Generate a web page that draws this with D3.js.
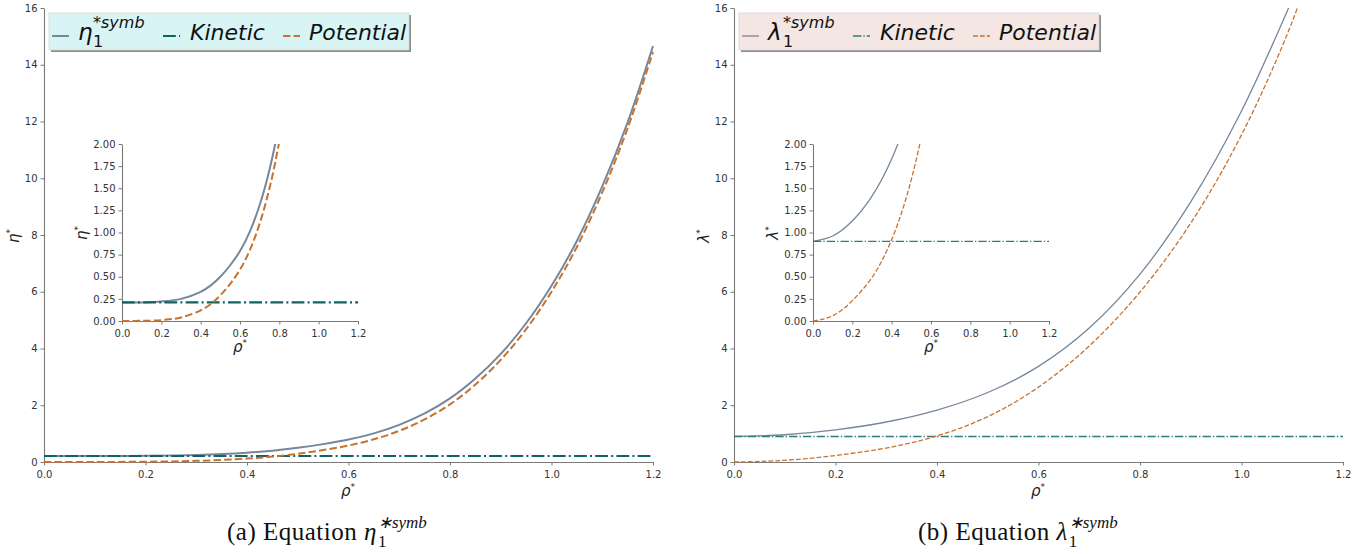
<!DOCTYPE html>
<meta charset="utf-8">
<script src="https://d3js.org/d3.v7.min.js"></script>
<style>
  body { margin: 0; background: #fff; }
  svg { display: block; }
</style>
<body>
<div id="chart"></div>
<script>

// ---- data ----
var rhoTicks = [0, 0.2, 0.4, 0.6, 0.8, 1.0, 1.2];
var mainYTicks = [0, 2, 4, 6, 8, 10, 12, 14, 16];
var insetYTicks = [0, 0.25, 0.5, 0.75, 1.0, 1.25, 1.5, 1.75, 2.0];
var kinRho = [0, 1.2];

// (a) eta
var rhoEta = [0, 0.1, 0.2, 0.3, 0.4, 0.45, 0.5, 0.55, 0.6, 0.65, 0.7, 0.75, 0.8, 0.85, 0.9, 0.95, 1.0, 1.05, 1.1, 1.15, 1.2];
var etaSymb = [0.21, 0.21, 0.22, 0.25, 0.33, 0.40, 0.50, 0.63, 0.79, 1.01, 1.31, 1.71, 2.24, 2.94, 3.81, 4.89, 6.21, 7.79, 9.71, 11.97, 14.66];
var etaPot = [0, 0.002, 0.01, 0.04, 0.12, 0.19, 0.29, 0.42, 0.58, 0.8, 1.1, 1.5, 2.03, 2.73, 3.6, 4.68, 6.0, 7.58, 9.5, 11.76, 14.45];
var etaKin = [0.21, 0.21];

// (b) lambda
var rhoLamSymb = [0, 0.1, 0.2, 0.3, 0.4, 0.5, 0.6, 0.7, 0.8, 0.9, 1.0, 1.1];
var lamSymb = [0.90, 0.96, 1.13, 1.41, 1.83, 2.45, 3.37, 4.72, 6.62, 9.17, 12.37, 16.3];
var rhoLamPot = [0, 0.05, 0.1, 0.15, 0.2, 0.25, 0.3, 0.35, 0.4, 0.45, 0.5, 0.55, 0.6, 0.65, 0.7, 0.75, 0.8, 0.85, 0.9, 0.95, 1.0, 1.05, 1.1, 1.125];
var lamPot = [0, 0.02, 0.06, 0.13, 0.23, 0.35, 0.49, 0.68, 0.92, 1.22, 1.60, 2.07, 2.64, 3.31, 4.09, 4.98, 5.99, 7.13, 8.42, 9.88, 11.53, 13.4, 15.52, 16.75];
var lamKin = [0.9, 0.9];

var symbCol = "#76869b";
var potCol = "#c8722e";

var svg = d3.select("#chart").append("svg")
  .attr("width", 1372)
  .attr("height", 554)
  .style("font-family", "DejaVu Sans");

var uid = 0;

function zip(xs, ys) {
  return xs.map(function (x, i) { return [x, ys[i]]; });
}

// one set of axes (main plot or inset)
function axes(o) {
  var x = d3.scaleLinear().domain([0, 1.2]).range([o.x0, o.x1]);
  var y = d3.scaleLinear().domain([0, o.yMax]).range([o.y0, o.y1]);
  var id = "clip" + (uid++);

  svg.append("clipPath").attr("id", id)
    .append("rect")
    .attr("x", o.x0 - 2).attr("y", o.y1)
    .attr("width", o.x1 - o.x0 + 4).attr("height", o.y0 - o.y1 + 2);

  var gx = svg.append("g")
    .attr("transform", "translate(0," + o.y0 + ")")
    .call(d3.axisBottom(x).tickValues(rhoTicks).tickFormat(d3.format(".1f")).tickSize(3.5).tickSizeOuter(0));
  var gy = svg.append("g")
    .attr("transform", "translate(" + o.x0 + ",0)")
    .call(d3.axisLeft(y).tickValues(o.yTicks).tickFormat(o.yFmt).tickSize(3.5).tickSizeOuter(0));

  [gx, gy].forEach(function (g) {
    g.select(".domain").attr("stroke", "#7a7a7a").attr("stroke-width", 1.1);
    g.selectAll(".tick line").attr("stroke", "#7a7a7a");
    g.selectAll(".tick text").attr("fill", "#333").style("font-size", "10px").style("font-family", "DejaVu Sans");
  });
  gx.selectAll(".tick text").attr("dy", "0.95em");

  var plot = svg.append("g").attr("clip-path", "url(#" + id + ")");
  var line = d3.line()
    .x(function (d) { return x(d[0]); })
    .y(function (d) { return y(d[1]); })
    .curve(d3.curveCatmullRom.alpha(0.5));

  o.series.forEach(function (s) {
    plot.append("path")
      .datum(zip(s.rho, s.val))
      .attr("d", line)
      .attr("fill", "none")
      .attr("stroke", s.color)
      .attr("stroke-width", s.width)
      .attr("stroke-dasharray", s.dash || null);
  });
}

// axis label: italic glyph with * superscript
function starLabel(x, y, base, size, rotate) {
  var t = svg.append("text")
    .attr("transform", "translate(" + x + "," + y + ")" + (rotate ? " rotate(-90)" : ""))
    .attr("text-anchor", "middle")
    .style("font-family", "DejaVu Sans")
    .style("font-style", "italic")
    .style("font-size", size + "px")
    .attr("fill", "#222");
  t.append("tspan").text(base);
  t.append("tspan").attr("dy", -size * 0.4).style("font-size", (size * 0.6) + "px").style("font-style", "normal").text("*");
}

function panel(p) {
  var thick = p.lw;
  var dash = [3.7 * thick, 1.6 * thick].join(",");
  var dashdot = [6.4 * thick, 1.6 * thick, 1 * thick, 1.6 * thick].join(",");

  var series = [
    { rho: p.rhoSymb, val: p.symb, color: symbCol, width: thick },
    { rho: kinRho, val: p.kin, color: p.kinCol, width: thick * 1.05, dash: dashdot },
    { rho: p.rhoPot, val: p.pot, color: potCol, width: thick, dash: dash }
  ];

  // main axes
  axes({ x0: p.dx + 44, x1: p.dx + 653, y0: 462, y1: 8, yMax: 16,
    yTicks: mainYTicks, yFmt: d3.format("d"), series: series });
  // inset
  axes({ x0: p.dx + p.ix0, x1: p.dx + p.ix0 + 236, y0: 321, y1: 144, yMax: 2,
    yTicks: insetYTicks, yFmt: d3.format(".2f"), series: series });

  starLabel(p.dx + 348, 496, "ρ", 15, false);
  starLabel(p.dx + 19, 236, p.sym, 15, true);
  starLabel(p.dx + p.ix0 + 118, 352, "ρ", 15, false);
  starLabel(p.dx + p.ix0 - 35, 233, p.sym, 15, true);

  // legend
  var lg = svg.append("g").attr("transform", "translate(" + (p.dx + 49) + ",13)");
  lg.append("rect").attr("x", 2).attr("y", 2).attr("width", 360).attr("height", 37).attr("fill", "#8c8c8c");
  lg.append("rect").attr("width", 360).attr("height", 37).attr("fill", p.legFill).attr("stroke", "#d6d6d6").attr("stroke-width", 0.8);

  var samples = [
    { x: 3, w: 17, color: symbCol, dash: null },
    { x: 114, w: 17, color: p.kinCol, dash: dashdot },
    { x: 234, w: 17, color: potCol, dash: dash }
  ];
  samples.forEach(function (s) {
    lg.append("line")
      .attr("x1", s.x).attr("x2", s.x + s.w).attr("y1", 23).attr("y2", 23)
      .attr("stroke", s.color).attr("stroke-width", thick)
      .attr("stroke-dasharray", s.dash);
  });

  function txt(x, y, size, str) {
    return lg.append("text").attr("x", x).attr("y", y)
      .style("font-size", size + "px")
      .style("font-family", "DejaVu Sans")
      .style("font-style", "italic")
      .attr("fill", "#111")
      .text(str);
  }
  txt(29, 27, 23, p.sym);
  txt(44, 34, 16, "1").style("font-style", "normal");
  txt(44, 15, 16, "*symb");
  txt(141, 27, 22, "Kinetic");
  txt(260, 27, 22, "Potential");

  // caption
  var cap = svg.append("text")
    .attr("x", p.dx + p.capX).attr("y", 540)
    .style("font-family", "Liberation Serif")
    .style("font-size", "25px")
    .style("letter-spacing", "0.5px")
    .attr("fill", "#111");
  cap.append("tspan").text(p.cap + " Equation ");
  cap.append("tspan").style("font-style", "italic").text(p.sym);
  var capEnd = cap.node().getComputedTextLength();
  svg.append("text").attr("x", p.dx + p.capX + capEnd + 1).attr("y", 547)
    .style("font-family", "Liberation Serif").style("font-size", "17px").attr("fill", "#111").text("1");
  svg.append("text").attr("x", p.dx + p.capX + capEnd + 1).attr("y", 528)
    .style("font-family", "Liberation Serif").style("font-size", "17px").style("font-style", "italic").attr("fill", "#111").text("∗symb");
}

panel({ dx: 0, ix0: 122, lw: 2, sym: "η", kin: etaKin, kinCol: "#0f6363",
  rhoSymb: rhoEta, symb: etaSymb, rhoPot: rhoEta, pot: etaPot,
  legFill: "#d8f4f4", cap: "(a)", capX: 227 });

panel({ dx: 690, ix0: 123, lw: 1.3, sym: "λ", kin: lamKin, kinCol: "#2b7c7c",
  rhoSymb: rhoLamSymb, symb: lamSymb, rhoPot: rhoLamPot, pot: lamPot,
  legFill: "#f4e6e3", cap: "(b)", capX: 228 });

</script>
</body>
</html>
